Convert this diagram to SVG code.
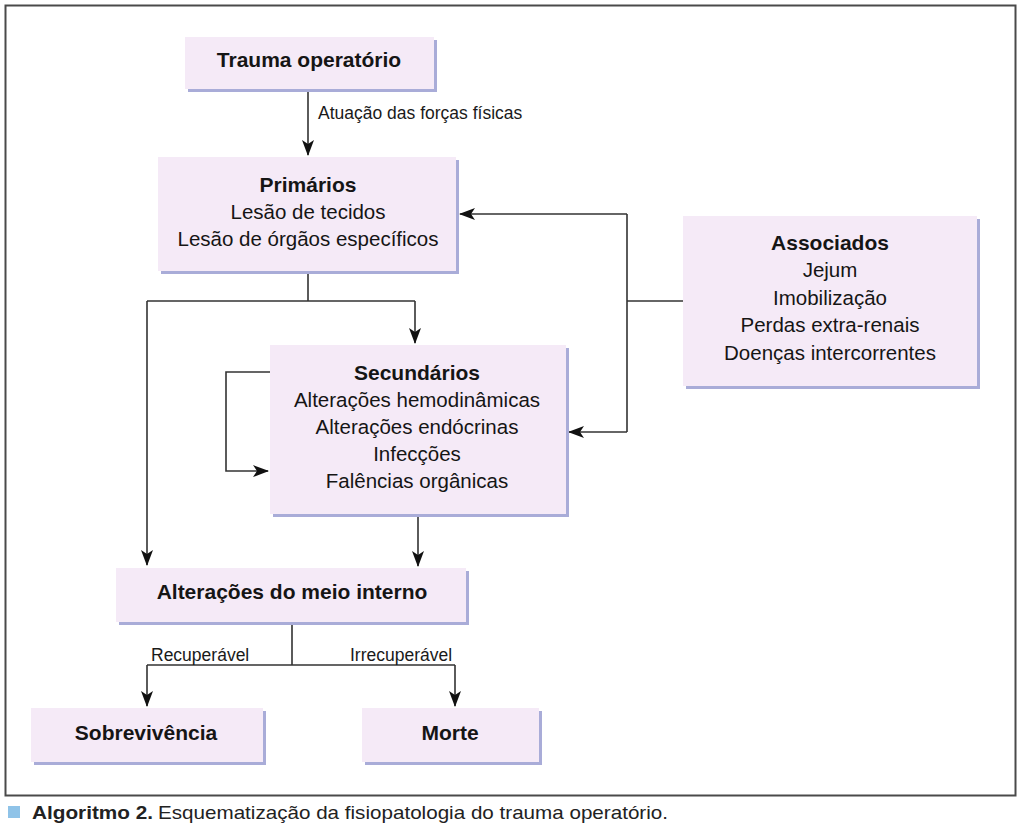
<svg xmlns="http://www.w3.org/2000/svg" width="1024" height="834" viewBox="0 0 1024 834">
<defs>
<style>
.box{fill:#f5eaf7}
.sh{fill:#a9acd8}
.t{font-family:"Liberation Sans",Arial,sans-serif;font-size:20.5px;fill:#151515;text-anchor:middle}
.b{font-weight:bold;font-size:21px}
.lbl{font-family:"Liberation Sans",Arial,sans-serif;font-size:17.5px;fill:#1a1a1a}
.ln{fill:none;stroke:#333;stroke-width:1.6}
</style>
<marker id="ah" markerUnits="userSpaceOnUse" markerWidth="16" markerHeight="12" refX="15" refY="6" orient="auto">
<path d="M0,0 L16,6 L0,12 L4,6 z" fill="#111"/>
</marker>
</defs>
<rect width="1024" height="834" fill="#fff"/>
<rect x="5.5" y="5.5" width="1010" height="790" fill="none" stroke="#4a4a4a" stroke-width="2"/>

<g id="connectors">
<path class="ln" d="M308,91 V155" marker-end="url(#ah)"/>
<path class="ln" d="M308,273 V301 M147,301 H415"/>
<path class="ln" d="M415,301 V343" marker-end="url(#ah)"/>
<path class="ln" d="M147,301 V565" marker-end="url(#ah)"/>
<path class="ln" d="M683,301 H627"/>
<path class="ln" d="M627,214 V432"/>
<path class="ln" d="M627,214 H460" marker-end="url(#ah)"/>
<path class="ln" d="M627,432 H569" marker-end="url(#ah)"/>
<path class="ln" d="M270,372 H226 V471 H268" marker-end="url(#ah)"/>
<path class="ln" d="M418,517 V566" marker-end="url(#ah)"/>
<path class="ln" d="M292,625 V665 M147,665 H455"/>
<path class="ln" d="M147,665 V706" marker-end="url(#ah)"/>
<path class="ln" d="M455,665 V706" marker-end="url(#ah)"/>
<text class="lbl" x="318" y="119">Atuação das forças físicas</text>
<text class="lbl" x="151" y="661">Recuperável</text>
<text class="lbl" x="350" y="661">Irrecuperável</text>
</g>

<g id="trauma">
<rect class="sh" x="188" y="40" width="249" height="52"/>
<rect class="box" x="185" y="37" width="249" height="52"/>
<text class="t b" x="309" y="67">Trauma operatório</text>
</g>

<g id="primarios">
<rect class="sh" x="161" y="160" width="298" height="114"/>
<rect class="box" x="158" y="157" width="298" height="114"/>
<text class="t b" x="308" y="192">Primários</text>
<text class="t" x="308" y="219">Lesão de tecidos</text>
<text class="t" x="308" y="246">Lesão de órgãos específicos</text>
</g>

<g id="secundarios">
<rect class="sh" x="273" y="348" width="296" height="169"/>
<rect class="box" x="270" y="345" width="296" height="169"/>
<text class="t b" x="417" y="380">Secundários</text>
<text class="t" x="417" y="407">Alterações hemodinâmicas</text>
<text class="t" x="417" y="434">Alterações endócrinas</text>
<text class="t" x="417" y="461">Infecções</text>
<text class="t" x="417" y="488">Falências orgânicas</text>
</g>

<g id="associados">
<rect class="sh" x="686" y="219" width="294" height="170"/>
<rect class="box" x="683" y="216" width="294" height="170"/>
<text class="t b" x="830" y="250">Associados</text>
<text class="t" x="830" y="277">Jejum</text>
<text class="t" x="830" y="305">Imobilização</text>
<text class="t" x="830" y="332">Perdas extra-renais</text>
<text class="t" x="830" y="360">Doenças intercorrentes</text>
</g>

<g id="meio">
<rect class="sh" x="119" y="571" width="350" height="54"/>
<rect class="box" x="116" y="568" width="350" height="54"/>
<text class="t b" x="292" y="599">Alterações do meio interno</text>
</g>

<g id="sobrevivencia">
<rect class="sh" x="34" y="711" width="232" height="54"/>
<rect class="box" x="31" y="708" width="232" height="54"/>
<text class="t b" x="146" y="740">Sobrevivência</text>
</g>

<g id="morte">
<rect class="sh" x="365" y="711" width="177" height="54"/>
<rect class="box" x="362" y="708" width="177" height="54"/>
<text class="t b" x="450" y="740">Morte</text>
</g>

<g id="caption">
<rect x="8" y="806" width="12" height="12" fill="#8fc3e8"/>
<text x="32" y="819" font-family="'Liberation Sans Narrow','Liberation Sans',Arial,sans-serif" font-size="19" fill="#222"><tspan font-weight="bold" textLength="121" lengthAdjust="spacingAndGlyphs">Algoritmo 2.</tspan><tspan dx="5" textLength="510" lengthAdjust="spacingAndGlyphs">Esquematização da fisiopatologia do trauma operatório.</tspan></text>
</g>
</svg>
